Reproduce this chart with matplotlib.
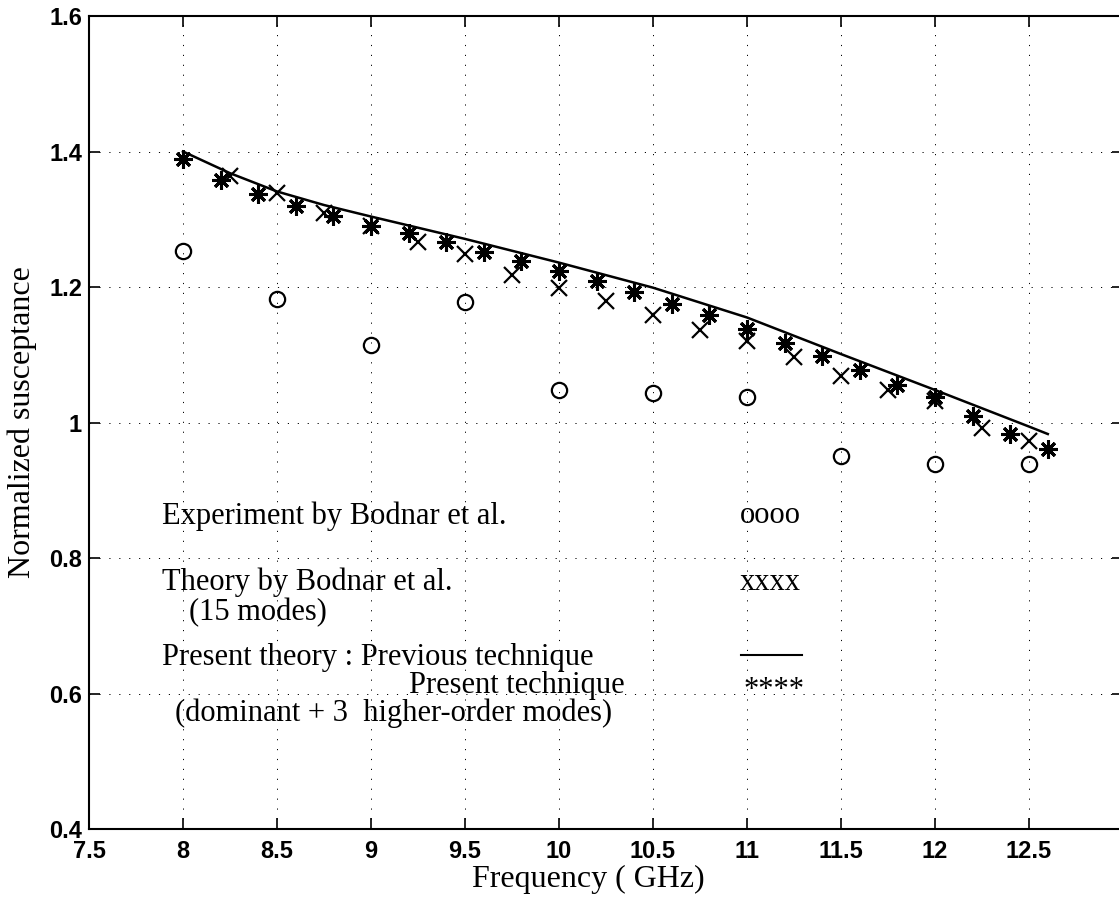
import numpy as np
import matplotlib
matplotlib.use("Agg")
import matplotlib.pyplot as plt

# Experiment by Bodnar et al.
exp_freq = [8.0, 8.5, 9.0, 9.5, 10.0, 10.5, 11.0, 11.5, 12.0, 12.5]
exp_b = [1.253, 1.183, 1.115, 1.178, 1.048, 1.044, 1.038, 0.950, 0.939, 0.939]

# Theory by Bodnar et al. (15 modes)
bod_freq = [8.25, 8.5, 8.75, 9.0, 9.25, 9.5, 9.75, 10.0, 10.25, 10.5,
            10.75, 11.0, 11.25, 11.5, 11.75, 12.0, 12.25, 12.5]
bod_b = [1.364, 1.339, 1.309, 1.290, 1.267, 1.248, 1.218, 1.198, 1.179, 1.158,
         1.137, 1.120, 1.097, 1.068, 1.048, 1.032, 0.992, 0.973]

# present theory, previous technique (solid line)
prev_freq = [8.0, 8.25, 8.5, 8.75, 9.0, 9.5, 10.0, 10.5, 11.0, 11.5, 12.0, 12.5, 12.6]
prev_b = [1.400, 1.368, 1.341, 1.321, 1.304, 1.271, 1.236, 1.199, 1.155, 1.101, 1.048, 0.994, 0.983]

# present theory, present technique (dominant + 3 higher-order modes)
pres_freq = [8.0, 8.2, 8.4, 8.6, 8.8, 9.0, 9.2, 9.4, 9.6, 9.8, 10.0, 10.2,
             10.4, 10.6, 10.8, 11.0, 11.2, 11.4, 11.6, 11.8, 12.0, 12.2, 12.4, 12.6]
pres_b = [1.389, 1.358, 1.337, 1.320, 1.305, 1.290, 1.279, 1.266, 1.251, 1.238, 1.224, 1.209,
          1.192, 1.175, 1.158, 1.138, 1.118, 1.098, 1.077, 1.056, 1.037, 1.010, 0.983, 0.961]

xticks = [7.5, 8, 8.5, 9, 9.5, 10, 10.5, 11, 11.5, 12, 12.5]
xticklabels = ["7.5", "8", "8.5", "9", "9.5", "10", "10.5", "11", "11.5", "12", "12.5"]
yticks = [0.4, 0.6, 0.8, 1.0, 1.2, 1.4, 1.6]
yticklabels = ["0.4", "0.6", "0.8", "1", "1.2", "1.4", "1.6"]

W, H = 1119, 897
fig = plt.figure(figsize=(W / 100, H / 100), dpi=100)
ax = fig.add_axes([89 / W, (H - 829) / H, (1123 - 89) / W, (829 - 16) / H])

serif = "Liberation Serif"
sans = "Liberation Sans"

ax.plot(prev_freq, prev_b, color="k", lw=1.8)
ax.plot(bod_freq, bod_b, ls="none", marker="x", ms=11, mew=1.6, color="k")
ax.plot(pres_freq, pres_b, ls="none", marker=(8, 2, 0), ms=13, mew=2.2, color="k")
ax.plot(exp_freq, exp_b, ls="none", marker="o", ms=11, mew=1.6, mfc="none", mec="k")

ax.set_xlim(7.5, 13)
ax.set_ylim(0.4, 1.6)
ax.set_xticks(xticks)
ax.set_xticklabels(xticklabels)
ax.set_yticks(yticks)
ax.set_yticklabels(yticklabels)

ax.grid(True, color="k", ls=(0, (1.2, 9)), lw=0.7)
ax.tick_params(direction="in", length=8, width=1.2, top=True, right=True,
               labelsize=17, pad=8)
ax.tick_params(axis="y", pad=5)
for lab in ax.get_xticklabels() + ax.get_yticklabels():
    lab.set_fontfamily(sans)
    lab.set_fontweight("bold")
for sp in ax.spines.values():
    sp.set_linewidth(1.5)

ax.set_xlabel("Frequency ( GHz)", fontfamily=serif, fontsize=23, va="center")
ax.xaxis.set_label_coords((588 - 89) / (1123 - 89), -0.0615)
ax.set_ylabel("Normalized susceptance", fontfamily=serif, fontsize=23, va="center")
ax.yaxis.set_label_coords(-0.065, 0.5)

# legend written as free text inside the axes
kw = dict(fontfamily=serif, fontsize=22, va="center", ha="left", transform=ax.transData)
ax.text(7.89, 0.862, "Experiment by Bodnar et al.", **kw)
ax.text(10.96, 0.862, "oooo", **kw)
ax.text(7.89, 0.764, "Theory by Bodnar et al.", **kw)
ax.text(8.03, 0.719, "(15 modes)", **kw)
ax.text(10.96, 0.764, "xxxx", **kw)
ax.text(7.89, 0.653, "Present theory : Previous technique", **kw)
ax.text(9.2, 0.612, "Present technique", **kw)
ax.text(7.955, 0.571, "(dominant + 3  higher-order modes)", **kw)
ax.plot([10.97, 11.29], [0.657, 0.657], color="k", lw=1.5)
ax.text(10.98, 0.604, "****", **kw)

fig.savefig("out.png", dpi=100)
